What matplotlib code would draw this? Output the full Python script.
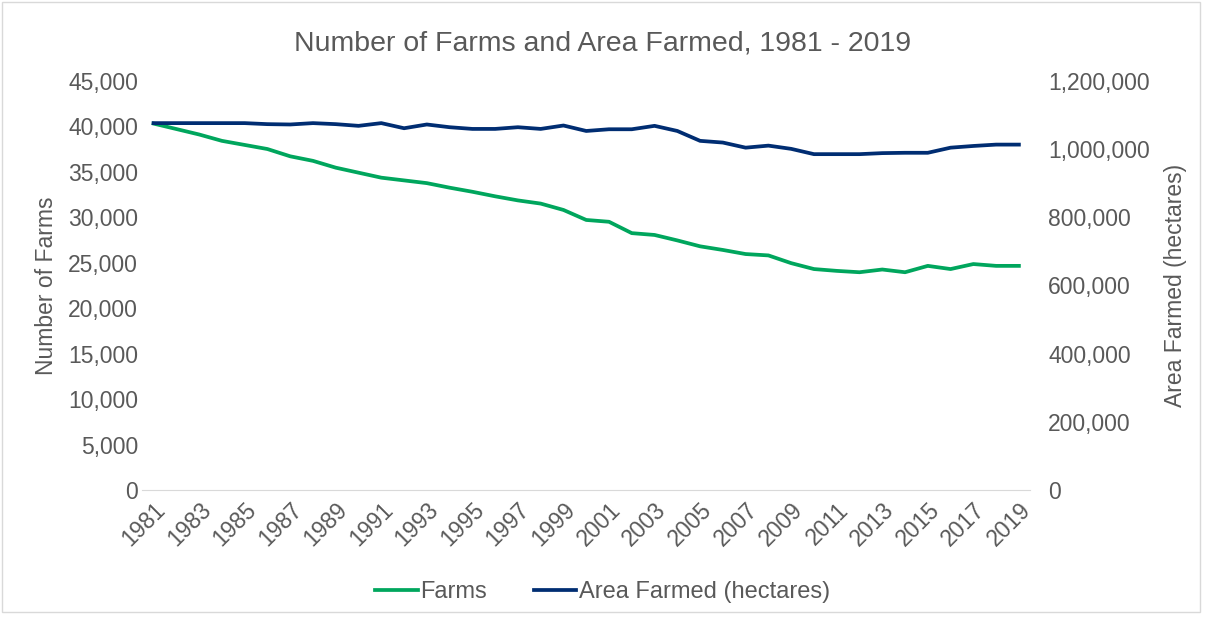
import matplotlib; matplotlib.use('Agg')
import matplotlib.pyplot as plt
from matplotlib.patches import Rectangle
from matplotlib.ticker import FuncFormatter, MultipleLocator

plt.rcParams['font.family'] = ['Liberation Sans', 'DejaVu Sans']

years = list(range(1981, 2020))
farms = [40300, 39700, 39100, 38400, 37950, 37500, 36700, 36200, 35450, 34900,
         34350, 34050, 33750, 33250, 32800, 32300, 31850, 31500, 30800, 29700,
         29500, 28250, 28050, 27450, 26800, 26400, 25950, 25800, 24950, 24300,
         24100, 23950, 24250, 23950, 24650, 24300, 24850, 24650, 24650]
area = [1076000, 1076000, 1076000, 1076000, 1076000, 1073000, 1072000, 1076000, 1073000, 1068000,
        1076000, 1061000, 1072000, 1064000, 1059000, 1059000, 1064000, 1059000, 1069000, 1053000,
        1058000, 1058000, 1068000, 1053000, 1024000, 1019000, 1004000, 1010000, 1000500, 985000,
        985000, 985000, 988000, 989000, 989000, 1004000, 1009000, 1013000, 1013000]

grey = '#595959'
green = '#00A65D'
navy = '#002D72'
fs = 16.5

fig = plt.figure(figsize=(12.05, 6.19), dpi=100)
ax = fig.add_axes([0.118, 0.2084, 0.737, 0.661])
ax2 = ax.twinx()

l1, = ax.plot(years, farms, color=green, lw=2.7, label='Farms')
l2, = ax2.plot(years, area, color=navy, lw=2.7, label='Area Farmed (hectares)')

ax.set_xlim(1980.5, 2019.5)
ax.set_ylim(0, 45000)
ax2.set_ylim(0, 1200000)
ax.yaxis.set_major_locator(MultipleLocator(5000))
ax2.yaxis.set_major_locator(MultipleLocator(200000))
fmt = FuncFormatter(lambda v, p: f'{int(v):,}')
ax.yaxis.set_major_formatter(fmt)
ax2.yaxis.set_major_formatter(fmt)
ax.set_xticks(years[::2])
ax.set_xticklabels([str(y) for y in years[::2]], rotation=45, ha='right',
                   rotation_mode='anchor')

for a in (ax, ax2):
    for s in a.spines.values():
        s.set_visible(False)
    a.tick_params(length=0, colors=grey, labelsize=fs)
ax.spines['bottom'].set_visible(True)
ax.spines['bottom'].set_color('#D9D9D9')
ax.tick_params(axis='y', pad=3)
ax2.tick_params(axis='y', pad=13)
ax.tick_params(axis='x', pad=6)

ax.set_ylabel('Number of Farms', color=grey, fontsize=fs, labelpad=7)
ax2.set_ylabel('Area Farmed (hectares)', color=grey, fontsize=fs, labelpad=10)
fig.text(0.5, 0.93, 'Number of Farms and Area Farmed, 1981 - 2019',
         ha='center', va='center', color=grey, fontsize=20.5)

fig.legend(handles=[l1, l2], loc='center', bbox_to_anchor=(0.5, 0.043), ncol=2,
           frameon=False, fontsize=17, labelcolor=grey, handlelength=1.8,
           handletextpad=0.1, columnspacing=2.0)

fig.patches.append(Rectangle((0.002, 0.012), 0.994, 0.985, transform=fig.transFigure,
                             fill=False, ec='#D9D9D9', lw=1))

fig.savefig('out.png', dpi=100)
